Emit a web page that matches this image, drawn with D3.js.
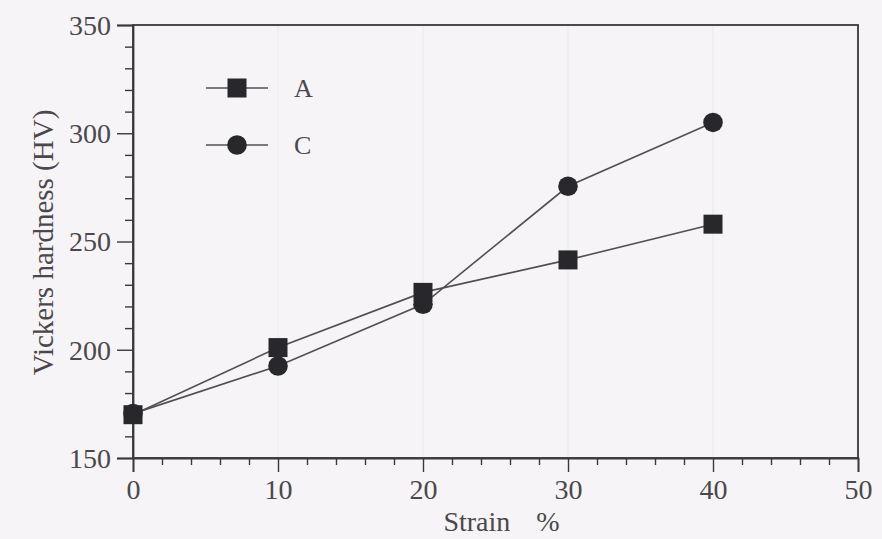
<!DOCTYPE html>
<html>
<head>
<meta charset="utf-8">
<script src="https://cdn.jsdelivr.net/npm/d3@7"></script>
<style>
  body { margin: 0; background: #f7f4f7; }
  svg { display: block; }
</style>
</head>
<body>
<svg></svg>
<script>
let strain = [0, 10, 20, 30, 40];
let hardnessA = [170, 201, 226.5, 241.5, 258];
let hardnessC = [170.5, 192.5, 221, 275.5, 305];
let xTicks = [0, 10, 20, 30, 40, 50];
let yTicks = [150, 200, 250, 300, 350];

let width = 882;
let height = 539;
let margin = { top: 25, right: 24, bottom: 81, left: 133 };
let serif = '"Liberation Serif", "DejaVu Serif", serif';

let svg = d3.select('svg')
    .attr('width', width)
    .attr('height', height)
    .attr('font-family', serif);

let x = d3.scaleLinear().domain([0, 50]).range([margin.left, width - margin.right]);
let y = d3.scaleLinear().domain([150, 350]).range([height - margin.bottom, margin.top]);

let ink = '#3a383c';
let textCol = '#4a484c';

// faint vertical lines at major strain ticks
svg.append('g')
    .selectAll('line')
    .data(xTicks.slice(1, -1))
    .join('line')
    .attr('x1', d => x(d)).attr('x2', d => x(d))
    .attr('y1', y(350)).attr('y2', y(150))
    .attr('stroke', '#ebe7ec')
    .attr('stroke-width', 1);

// frame
svg.append('rect')
    .attr('x', x(0)).attr('y', y(350))
    .attr('width', x(50) - x(0)).attr('height', y(150) - y(350))
    .attr('fill', 'none')
    .attr('stroke', ink)
    .attr('stroke-width', 1.8);

// x axis
let xAxis = svg.append('g')
    .attr('transform', `translate(0, ${y(150)})`)
    .call(d3.axisBottom(x).tickValues(xTicks).tickSize(14).tickFormat(d3.format('d')));
svg.append('g')
    .attr('transform', `translate(0, ${y(150)})`)
    .call(d3.axisBottom(x).tickValues(d3.range(0, 51, 2).filter(d => d % 10)).tickSize(7).tickFormat(''))
    .call(g => g.select('.domain').remove());

// y axis
let yAxis = svg.append('g')
    .attr('transform', `translate(${x(0)}, 0)`)
    .call(d3.axisLeft(y).tickValues(yTicks).tickSize(16).tickFormat(d3.format('d')));
svg.append('g')
    .attr('transform', `translate(${x(0)}, 0)`)
    .call(d3.axisLeft(y).tickValues(d3.range(150, 351, 10).filter(d => d % 50)).tickSize(8).tickFormat(''))
    .call(g => g.select('.domain').remove());

svg.selectAll('.domain').attr('stroke', ink).attr('stroke-width', 1.8);
svg.selectAll('.tick line').attr('stroke', ink).attr('stroke-width', 1.4);
xAxis.attr('font-family', serif);
yAxis.attr('font-family', serif);
xAxis.selectAll('.tick text')
    .attr('font-size', 28).attr('fill', textCol).attr('dy', '0.71em').attr('y', 21);
yAxis.selectAll('.tick text')
    .attr('font-size', 28).attr('fill', textCol).attr('x', -22).attr('dy', '0.33em');

// axis titles
let xTitle = svg.append('text')
    .attr('x', x(25) + 6).attr('y', 531)
    .attr('text-anchor', 'middle')
    .attr('font-size', 28).attr('fill', textCol);
xTitle.append('tspan').text('Strain');
xTitle.append('tspan').attr('dx', 26).text('%');

svg.append('text')
    .attr('transform', `translate(53, ${y(250) + 1}) rotate(-90)`)
    .attr('text-anchor', 'middle')
    .attr('font-size', 29).attr('fill', textCol)
    .text('Vickers hardness (HV)');

// series
let series = [
    { name: 'A', values: hardnessA, shape: 'square' },
    { name: 'C', values: hardnessC, shape: 'circle' }
];

let line = d3.line().x((d, i) => x(strain[i])).y(d => y(d));

series.forEach(s => {
    svg.append('path')
        .attr('d', line(s.values))
        .attr('fill', 'none')
        .attr('stroke', '#505052')
        .attr('stroke-width', 1.6);
});

let markFill = '#28272b';
function drawMark(g, shape, cx, cy) {
    if (shape === 'square') {
        g.append('rect')
            .attr('x', cx - 9.5).attr('y', cy - 9.5)
            .attr('width', 19).attr('height', 19)
            .attr('fill', markFill);
    } else {
        g.append('circle')
            .attr('cx', cx).attr('cy', cy).attr('r', 9.8)
            .attr('fill', markFill);
    }
}

let marks = svg.append('g');
series.forEach(s => {
    s.values.forEach((v, i) => drawMark(marks, s.shape, x(strain[i]), y(v)));
});

// legend
let legend = svg.append('g');
series.forEach((s, i) => {
    let ly = 88 + i * 57;
    legend.append('line')
        .attr('x1', 206).attr('x2', 268)
        .attr('y1', ly).attr('y2', ly)
        .attr('stroke', '#505052').attr('stroke-width', 1.6);
    drawMark(legend, s.shape, 237, ly);
    legend.append('text')
        .attr('x', 294).attr('y', ly).attr('dy', '0.35em')
        .attr('font-size', 26).attr('fill', textCol)
        .text(s.name);
});
</script>
</body>
</html>
